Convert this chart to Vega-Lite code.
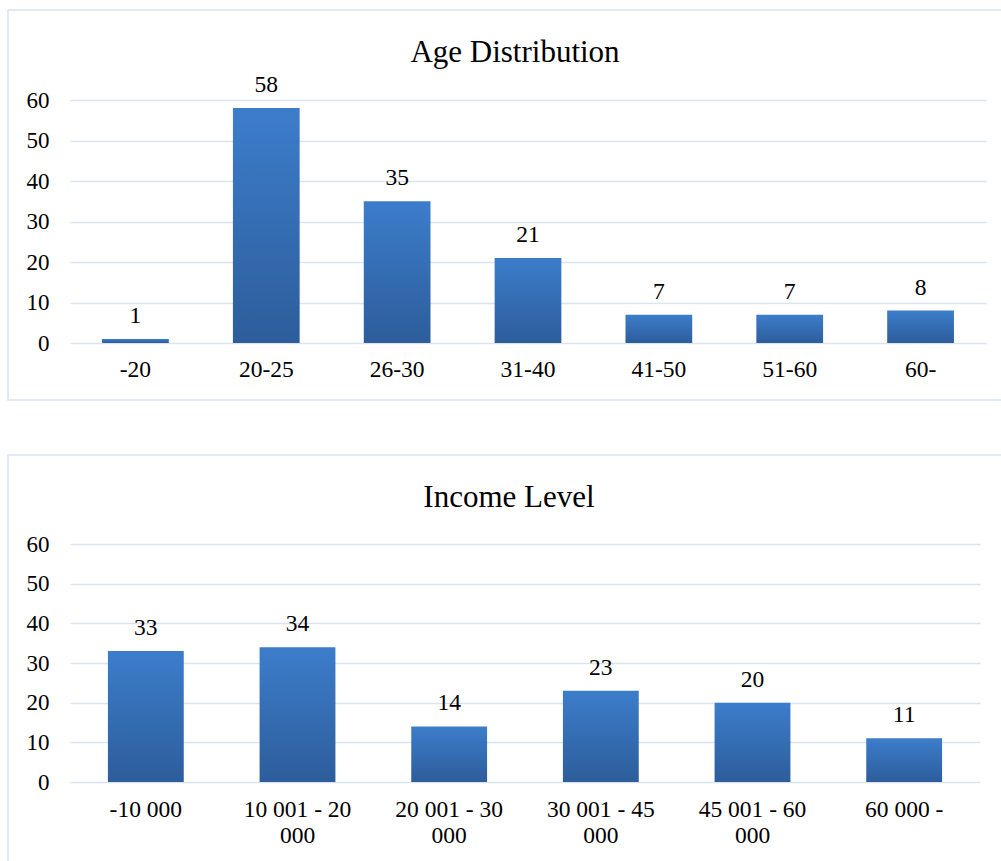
{
  "$schema": "https://vega.github.io/schema/vega-lite/v6.json",
  "padding": {"left": 7, "top": 9, "right": 0, "bottom": 0},
  "autosize": {"type": "pad"},
  "background": "white",
  "spacing": 55,
  "bounds": "flush",
  "config": {
    "font": "Liberation Serif",
    "view": {"stroke": "#d9e3f2", "strokeWidth": 1.5},
    "text": {"font": "Liberation Serif"},
    "style": {"guide-label": {"font": "Liberation Serif"}, "guide-title": {"font": "Liberation Serif"}, "group-title": {"font": "Liberation Serif"}},
    "axis": {"labelFont": "Liberation Serif", "labelFontSize": 23.5, "labelColor": "#000000", "ticks": false, "domain": false, "title": null, "labelOverlap": false, "labelBound": false},
    "title": {"font": "Liberation Serif", "fontSize": 31, "fontWeight": "normal", "color": "#000000"}
  },
  "vconcat": [
    {
      "width": 994,
      "height": 390,
      "title": {"text": "Age Distribution", "offset": -83, "anchor": "middle", "frame": "group", "baseline": "alphabetic", "dx": 10},
      "data": {"values": [
        {"age": "-20", "count": 1},
        {"age": "20-25", "count": 58},
        {"age": "26-30", "count": 35},
        {"age": "31-40", "count": 21},
        {"age": "41-50", "count": 7},
        {"age": "51-60", "count": 7},
        {"age": "60-", "count": 8}
      ]},
      "encoding": {
        "x": {"field": "age", "type": "nominal", "sort": null,
          "scale": {"range": [62, 978], "paddingInner": 0.49, "paddingOuter": 0.245},
          "axis": {"labelAngle": 0, "offset": -43, "labelPadding": 0, "grid": false, "labelBaseline": "top", "labelFont": "Liberation Serif"}},
        "y": {"field": "count", "type": "quantitative",
          "scale": {"domain": [0, 60], "range": [333, 90], "nice": false},
          "axis": {"values": [0, 10, 20, 30, 40, 50, 60], "offset": -41, "labelPadding": 0, "grid": true, "gridColor": "#d9e3f2", "gridWidth": 1.5, "labelFont": "Liberation Serif", "labelFontSize": 23}}
      },
      "layer": [
        {"mark": {"type": "bar", "color": {"gradient": "linear", "x1": 0, "y1": 0, "x2": 0, "y2": 1, "stops": [{"offset": 0, "color": "#3c7dcb"}, {"offset": 1, "color": "#2d5d9b"}]}}},
        {"mark": {"type": "text", "baseline": "alphabetic", "dy": -16, "fontSize": 23.5, "font": "Liberation Serif", "color": "#000000"}, "encoding": {"text": {"field": "count"}}}
      ]
    },
    {
      "width": 994,
      "height": 408,
      "title": {"text": "Income Level", "offset": -83, "anchor": "middle", "frame": "group", "baseline": "alphabetic", "dx": 4},
      "data": {"values": [
        {"income": "-10 000", "count": 33},
        {"income": "10 001 - 20 000", "count": 34},
        {"income": "20 001 - 30 000", "count": 14},
        {"income": "30 001 - 45 000", "count": 23},
        {"income": "45 001 - 60 000", "count": 20},
        {"income": "60 000 -", "count": 11}
      ]},
      "encoding": {
        "x": {"field": "income", "type": "nominal", "sort": null,
          "scale": {"range": [62, 972], "paddingInner": 0.5, "paddingOuter": 0.25},
          "axis": {"labelAngle": 0, "offset": -66, "labelPadding": 0, "grid": false, "labelBaseline": "top", "labelLineHeight": 26, "labelFont": "Liberation Serif",
            "labelExpr": "length(datum.label) > 10 ? [slice(datum.label, 0, lastindexof(datum.label, ' ')), slice(datum.label, lastindexof(datum.label, ' ') + 1)] : datum.label"}},
        "y": {"field": "count", "type": "quantitative",
          "scale": {"domain": [0, 60], "range": [327, 89], "nice": false},
          "axis": {"values": [0, 10, 20, 30, 40, 50, 60], "offset": -41, "labelPadding": 0, "grid": true, "gridColor": "#d9e3f2", "gridWidth": 1.5, "labelFont": "Liberation Serif", "labelFontSize": 23}}
      },
      "layer": [
        {"mark": {"type": "bar", "color": {"gradient": "linear", "x1": 0, "y1": 0, "x2": 0, "y2": 1, "stops": [{"offset": 0, "color": "#3c7dcb"}, {"offset": 1, "color": "#2d5d9b"}]}}},
        {"mark": {"type": "text", "baseline": "alphabetic", "dy": -16, "fontSize": 23.5, "font": "Liberation Serif", "color": "#000000"}, "encoding": {"text": {"field": "count"}}}
      ]
    }
  ]
}
